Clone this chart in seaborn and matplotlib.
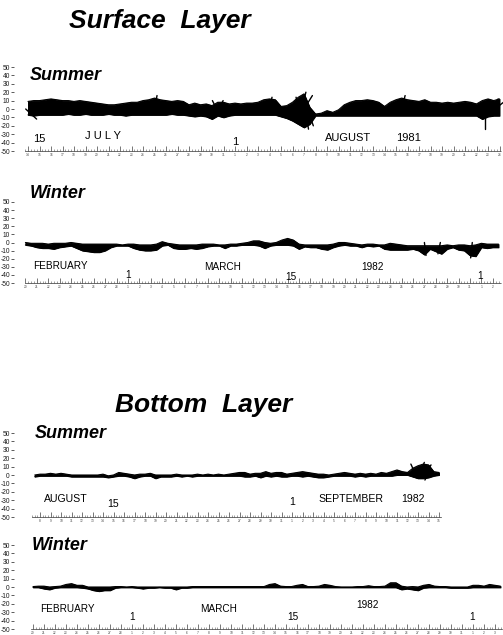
import numpy as np
import matplotlib
matplotlib.use("Agg")
import matplotlib.pyplot as plt
from matplotlib.ticker import FuncFormatter
import seaborn as sns

# Current-meter stick plots, envelope of the sticks (cm/s) every half day.
# Time is in days from the 1st of the month in the middle of each record.

# Surface layer, summer 1981 (day 0 = 1 August)
surf_sum_t0 = -18.0
surf_sum_hi = [9, 10, 10, 11, 12, 11, 10, 10, 9, 10,
               9, 8, 7, 6, 5, 5, 6, 7, 8, 8,
               10, 11, 13, 11, 10, 9, 10, 9, 5, 7,
               5, 6, 4, 8, 8, 6, 7, 6, 7, 7,
               8, 11, 12, 11, 3, 4, 8, 14, 18, 2,
               -6, -5, -2, -4, -1, 5, 8, 10, 10, 11,
               10, 8, 3, 8, 11, 13, 11, 10, 9, 11,
               8, 8, 7, 8, 7, 8, 9, 8, 6, 10,
               12, 10, 12]
surf_sum_lo = [-7, -8, -7, -7, -7, -7, -7, -6, -7, -7,
               -6, -7, -7, -7, -6, -7, -7, -8, -7, -7,
               -7, -7, -7, -7, -7, -6, -7, -7, -8, -9,
               -8, -9, -12, -8, -10, -8, -7, -7, -7, -7,
               -7, -7, -7, -7, -9, -11, -14, -18, -22, -18,
               -8, -8, -8, -8, -8, -8, -8, -8, -8, -8,
               -8, -8, -8, -8, -8, -8, -8, -8, -8, -8,
               -8, -8, -8, -8, -8, -8, -8, -8, -8, -12,
               -9, -8, -8]
surf_sum_spk_t = [-18.2, -7.0, -1.6, -1.4, 3.0, 5.6, 5.8, 6.0, 6.1, 6.3, 6.5, 14.5, 21.7, 22.3, 22.6]
surf_sum_spk_u = [13, 3, -5, 5, 3, -4, 5, 10, 4, 7, -3, 4, 0, 8, 14]
surf_sum_spk_v = [-12, 16, 10, 10, 14, 14, 20, 16, -24, -20, -18, 16, -24, 12, 11]

# Surface layer, winter 1982 (day 0 = 1 March)
surf_win_t0 = -9.0
surf_win_hi = [0, -1, -1, -1, -2, -1, -1, -1, 0, -1,
               -2, -2, -2, -2, -2, -2, -2, -3, -2, -2,
               -3, -3, -3, -2, 1, -1, -2, -3, -3, -3,
               -3, -2, -2, -2, -3, -3, -2, -2, -1, 0,
               2, 2, 0, -1, 0, 3, 5, 3, -2, -3,
               -3, -3, -3, -3, -2, 0, 0, -1, -2, -3,
               -2, -2, -3, -3, -1, -2, -3, -4, -4, -4,
               -4, -4, -4, -4, -3, -4, -3, -3, -4, -3,
               -1, -2, -2, -2]
surf_win_lo = [-3, -4, -6, -7, -7, -8, -6, -5, -4, -7,
               -10, -11, -12, -12, -10, -6, -4, -4, -4, -7,
               -9, -10, -10, -9, -4, -3, -7, -8, -8, -7,
               -8, -7, -5, -4, -4, -7, -4, -4, -3, -3,
               -3, -4, -7, -4, -3, -3, -3, -4, -8, -5,
               -6, -6, -8, -9, -6, -4, -3, -4, -4, -6,
               -4, -5, -4, -8, -9, -9, -9, -9, -8, -10,
               -15, -8, -11, -14, -8, -6, -9, -10, -16, -17,
               -6, -7, -6, -6]
surf_win_spk_t = [26.0, 27.4, 30.2]
surf_win_spk_u = [2, -3, -2]
surf_win_spk_v = [-16, -14, -19]

# Bottom layer, summer 1982 (day 0 = 1 September)
bot_sum_t0 = -24.5
bot_sum_hi = [0, 1, 1, 2, 1, 2, 1, 0, 0, 0,
              0, 0, 0, 1, -1, 0, 3, 2, 1, 0,
              1, 1, 2, 0, 0, 0, 0, 1, 0, 0,
              0, 1, 0, 1, 0, 1, 0, 1, 2, 3,
              3, 1, 2, 2, 4, 2, 3, 3, 1, 2,
              3, 4, 3, 2, 1, 1, 0, 1, 2, 3,
              2, 1, 2, 1, 2, 1, 3, 2, 4, 6,
              4, 3, 8, 11, 13, 12, 4, 3]
bot_sum_lo = [-2, -1, -1, -1, -1, -1, -1, -2, -2, -2,
              -2, -2, -2, -2, -3, -2, -1, -1, -2, -4,
              -2, -1, -1, -4, -2, -2, -2, -1, -2, -1,
              -2, -1, -1, -1, -1, -1, -1, -1, -1, -1,
              -2, -2, -1, -3, -1, -2, -1, -2, -2, -1,
              -1, -2, -1, -2, -3, -3, -2, -1, -1, -1,
              -1, -2, -1, -2, -1, -1, -1, -1, -1, 0,
              0, 0, -2, -4, -4, -3, -1, 0]
bot_sum_spk_t = [11.8, 12.2, 12.6, 12.9]
bot_sum_spk_u = [-6, 5, 8, -3]
bot_sum_spk_v = [13, 15, 12, -6]

# Bottom layer, winter 1982 (day 0 = 1 March)
bot_win_t0 = -9.0
bot_win_hi = [0.5, 1, 1, 0, 0.5, 1, 3, 4, 2, 2,
              0, 0, 0, 0, 0, 0.5, 0.5, 0, 0.5, 0,
              0, 0, 0, 0, 0, 0, 0, 0, 0, 0.5,
              0.5, 0.5, 0.5, 0.5, 0.5, 0.5, 0.5, 0.5, 0.5, 0.5,
              0.5, 0.5, 0.5, 3, 4, 1, 0.5, 0.5, 2, 3,
              0.5, 0.5, 1, 3, 2, 0.5, 0, 0, 0, 0.5,
              0.5, 1.5, 0.5, 0.5, 1, 5, 5, 1, 0, 0.5,
              0, 2, 3, 1, 0.5, 0.5, 0, 0, 0, 0,
              2, 2, 1, 3, 2, 1]
bot_win_lo = [-0.5, -0.5, -2, -3, -1, -0.5, -0.5, -0.5, -0.5, -1,
              -2, -4, -5, -4, -4, -1, -0.5, -0.5, -0.5, -1,
              -2, -1, -1, -0.5, -1, -1, -3, -1, -1, -0.5,
              -0.5, -0.5, -0.5, -0.5, -0.5, -0.5, -0.5, -0.5, -0.5, -0.5,
              -0.5, -0.5, -0.5, -0.5, -0.5, -0.5, -0.5, -0.5, -0.5, -0.5,
              -0.5, -0.5, -0.5, -0.5, -0.5, -0.5, -0.5, -0.5, -0.5, -0.5,
              -0.5, -0.5, -0.5, -0.5, -0.5, -0.5, -0.5, -3, -2, -3,
              -4, -1, -0.5, -0.5, -0.5, -0.5, -1, -1, -1, -1,
              -0.5, -0.5, -0.5, -0.5, -0.5, -0.5]
bot_win_spk_t = []
bot_win_spk_u = []
bot_win_spk_v = []

y_ticks = [-50, -40, -30, -20, -10, 0, 10, 20, 30, 40, 50]

# (text, day, value) annotations under each record
surf_sum_notes = [("15", -17, -36), ("J U L Y", -11.5, -32), ("1", 0, -39),
                  ("AUGUST", 9.8, -35), ("1981", 15.1, -35)]
surf_win_notes = [("FEBRUARY", -5.9, -29), ("1", 0, -40), ("MARCH", 8.3, -30),
                  ("15", 14.3, -42), ("1982", 21.4, -30), ("1", 30.9, -41)]
bot_sum_notes = [("AUGUST", -21.5, -28), ("15", -17, -34), ("1", 0, -32),
                 ("SEPTEMBER", 5.6, -28), ("1982", 11.5, -28)]
bot_win_notes = [("FEBRUARY", -5.9, -26), ("1", 0, -36), ("MARCH", 7.9, -26),
                 ("15", 14.6, -36), ("1982", 21.4, -22), ("1", 30.9, -36)]

W, H = 503, 635

# layout in pixels: top/bottom of axes, day-0 x position, px per day
panels = [
    dict(name="Summer", top=67, bot=151, x0=235, ppd=11.5, span=(-18.3, 23.1),
         t0=surf_sum_t0, hi=surf_sum_hi, lo=surf_sum_lo,
         spk=(surf_sum_spk_t, surf_sum_spk_u, surf_sum_spk_v),
         notes=surf_sum_notes, fs=8, months=(31, 31), lab=(30, 76)),
    dict(name="Winter", top=202, bot=283, x0=128, ppd=11.4, span=(-9.0, 32.7),
         t0=surf_win_t0, hi=surf_win_hi, lo=surf_win_lo,
         spk=(surf_win_spk_t, surf_win_spk_u, surf_win_spk_v),
         notes=surf_win_notes, fs=7.2, months=(28, 31), lab=(30, 193)),
    dict(name="Summer", top=433, bot=517, x0=292, ppd=10.5, span=(-24.8, 14.2),
         t0=bot_sum_t0, hi=bot_sum_hi, lo=bot_sum_lo,
         spk=(bot_sum_spk_t, bot_sum_spk_u, bot_sum_spk_v),
         notes=bot_sum_notes, fs=7.6, months=(31, 30), lab=(35, 433)),
    dict(name="Winter", top=545, bot=629, x0=132, ppd=11.0, span=(-9.2, 33.6),
         t0=bot_win_t0, hi=bot_win_hi, lo=bot_win_lo,
         spk=(bot_win_spk_t, bot_win_spk_u, bot_win_spk_v),
         notes=bot_win_notes, fs=7.2, months=(28, 31), lab=(32, 545)),
]

sns.set_theme(style="white")
plt.rcParams["font.family"] = ["Liberation Sans", "DejaVu Sans"]
plt.rcParams["axes.unicode_minus"] = False
plt.rcParams["text.color"] = "black"

fig = plt.figure(figsize=(W / 100, H / 100), dpi=100)
fig.patch.set_facecolor("white")

left_px = 14
for p in panels:
    ax = fig.add_axes([left_px / W, 1 - p["bot"] / H,
                       (W - left_px) / W, (p["bot"] - p["top"]) / H])
    ax.set_facecolor("white")
    ax.set_xlim((left_px - p["x0"]) / p["ppd"], (W - p["x0"]) / p["ppd"])
    ax.set_ylim(-50, 50)

    hi = np.array(p["hi"], dtype=float)
    lo = np.array(p["lo"], dtype=float)
    t = p["t0"] + 0.5 * np.arange(len(hi))

    ax.fill_between(t, lo, hi, color="black", linewidth=0.7)
    sns.lineplot(x=t, y=hi, color="black", linewidth=0.8, ax=ax, estimator=None)
    sns.lineplot(x=t, y=lo, color="black", linewidth=0.8, ax=ax, estimator=None)

    # individual sticks: u is turned into days with the same px scale as v
    sx = ((p["bot"] - p["top"]) / 100) / p["ppd"]
    for ts, us, vs in zip(*p["spk"]):
        ax.plot([ts, ts + us * sx], [0, vs], color="black", linewidth=1.0)

    for txt, tx, ty in p["notes"]:
        ax.text(tx, ty, txt, fontsize=p["fs"], ha="center", va="center", color="black")

    # axes styling
    for s in ["top", "right", "left"]:
        ax.spines[s].set_visible(False)
    ax.spines["bottom"].set_bounds(*p["span"])
    ax.spines["bottom"].set_linewidth(0.5)
    ax.spines["bottom"].set_linestyle((0, (1, 1)))
    ax.spines["bottom"].set_color("0.2")

    ax.set_yticks(y_ticks)
    ax.tick_params(axis="y", labelsize=4.8, length=2, width=0.5, pad=1,
                   left=True, colors="0.1")

    days = np.arange(np.ceil(p["span"][0]), np.floor(p["span"][1]) + 1)
    quarter = np.arange(np.ceil(p["span"][0] * 4), np.floor(p["span"][1] * 4) + 1) / 4
    ax.set_xticks(days)
    ax.set_xticks(quarter, minor=True)
    prev_len, cur_len = p["months"]

    def day_lab(v, pos, prev_len=prev_len, cur_len=cur_len):
        d = int(round(v))
        if d < 0:
            return str(prev_len + 1 + d)
        if d < cur_len:
            return str(d + 1)
        return str(d - cur_len + 1)

    ax.xaxis.set_major_formatter(FuncFormatter(day_lab))
    ax.tick_params(axis="x", which="major", direction="in", length=3.5, width=0.5,
                   labelsize=2.3, pad=1.5, bottom=True, colors="0.25")
    ax.tick_params(axis="x", which="minor", direction="in", length=1.5, width=0.4,
                   bottom=True, colors="0.35")

    fig.text(p["lab"][0] / W, 1 - p["lab"][1] / H, p["name"], fontsize=13,
             fontweight="bold", fontstyle="italic", ha="left", va="center",
             color="black")

fig.text(160 / W, 1 - 21 / H, "Surface  Layer", fontsize=19, fontweight="bold",
         fontstyle="italic", ha="center", va="center", color="black")
fig.text(204 / W, 1 - 405 / H, "Bottom  Layer", fontsize=19, fontweight="bold",
         fontstyle="italic", ha="center", va="center", color="black")

fig.savefig("out.png", dpi=100, facecolor="white")
